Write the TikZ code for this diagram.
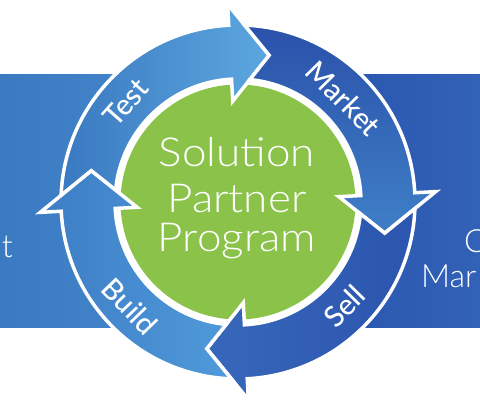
\documentclass[tikz,border=0pt]{standalone}
\usepackage{fontspec}
\setmainfont{Lato}
\newfontfamily\lightfont{Lato Light}[FakeStretch=1.1]
\newfontfamily\sidefont{Lato Light}
\newfontfamily\medfont{Lato Medium}
\definecolor{sppgreen}{HTML}{8BC24A}
\definecolor{leftrectA}{HTML}{3A7AC2}
\definecolor{leftrectB}{HTML}{4385CA}
\definecolor{rightrectA}{HTML}{2A55AE}
\definecolor{rightrectB}{HTML}{3262B8}
\definecolor{testA}{HTML}{3A79C1}
\definecolor{testB}{HTML}{5CA7DF}
\definecolor{marketA}{HTML}{2A51AA}
\definecolor{marketB}{HTML}{3F7FC7}
\definecolor{sellA}{HTML}{3767BA}
\definecolor{sellB}{HTML}{2B55AE}
\definecolor{buildA}{HTML}{3D7DC5}
\definecolor{buildB}{HTML}{509ADA}
\newcommand{\sppArrow}[3]{%
  \path[ringpart,#3] ({#1-5.14}:177pt) arc[start angle={#1-5.14}, end angle={#2}, radius=177pt]
   -- (#2:198pt) -- ({#2-15}:150pt) -- (#2:101pt) -- (#2:123pt)
   arc[start angle={#2}, end angle={#1-8.53}, radius=123pt] -- ({#1-15}:150pt) -- cycle;}
\begin{document}
\begin{tikzpicture}[x=1pt,y=1pt,
  ringpart/.style={draw=white, line width=3.5pt, line join=miter},
  lbl/.style={text=white, font=\medfont\fontsize{29}{29}\selectfont, inner sep=0pt},
  ctr/.style={text=white, font=\lightfont\fontsize{40}{40}\selectfont, inner sep=0pt, anchor=base},
  side/.style={text=white, font=\sidefont\fontsize{32}{32}\selectfont, inner sep=0pt}]
\useasboundingbox (0,0) rectangle (480,403);
\fill[white] (0,0) rectangle (480,403);
\path[left color=leftrectA, right color=leftrectB] (0,75) rectangle (150,328);
\path[left color=rightrectA, right color=rightrectB] (330,75) rectangle (480,328);
\node[side, anchor=base east] (lt) at (13,145) {t};
\node[side, anchor=base west] (rc) at (464,150) {C};
\node[side, anchor=base west] (rm) at (421,115) {Mar};
\begin{scope}[shift={(238,201)}]
  \fill[white] (0,0) circle[radius=125pt];
  \fill[sppgreen] (0,0) circle[radius=117.5pt];
  \sppArrow{183}{93}{left color=testA, right color=testB}
  \sppArrow{93}{3}{top color=marketA, bottom color=marketB}
  \sppArrow{3}{-87}{left color=sellA, right color=sellB}
  \sppArrow{-87}{-177}{left color=buildA, right color=buildB}
  \node[lbl, rotate=48.5] (test) at (138.5:150pt) {Test};
  \node[lbl, rotate=-45.5] (market) at (44.5:148pt) {Market};
  \node[lbl, rotate=45.5] (sell) at (-44.5:149pt) {Sell};
  \node[lbl, rotate=-46] (build) at (224:150pt) {Build};
\end{scope}
\node[ctr] (sol) at (237,236) {Solution};
\node[ctr] (par) at (237,190) {Partner};
\node[ctr] (pro) at (237,151) {Program};
\end{tikzpicture}
\end{document}
